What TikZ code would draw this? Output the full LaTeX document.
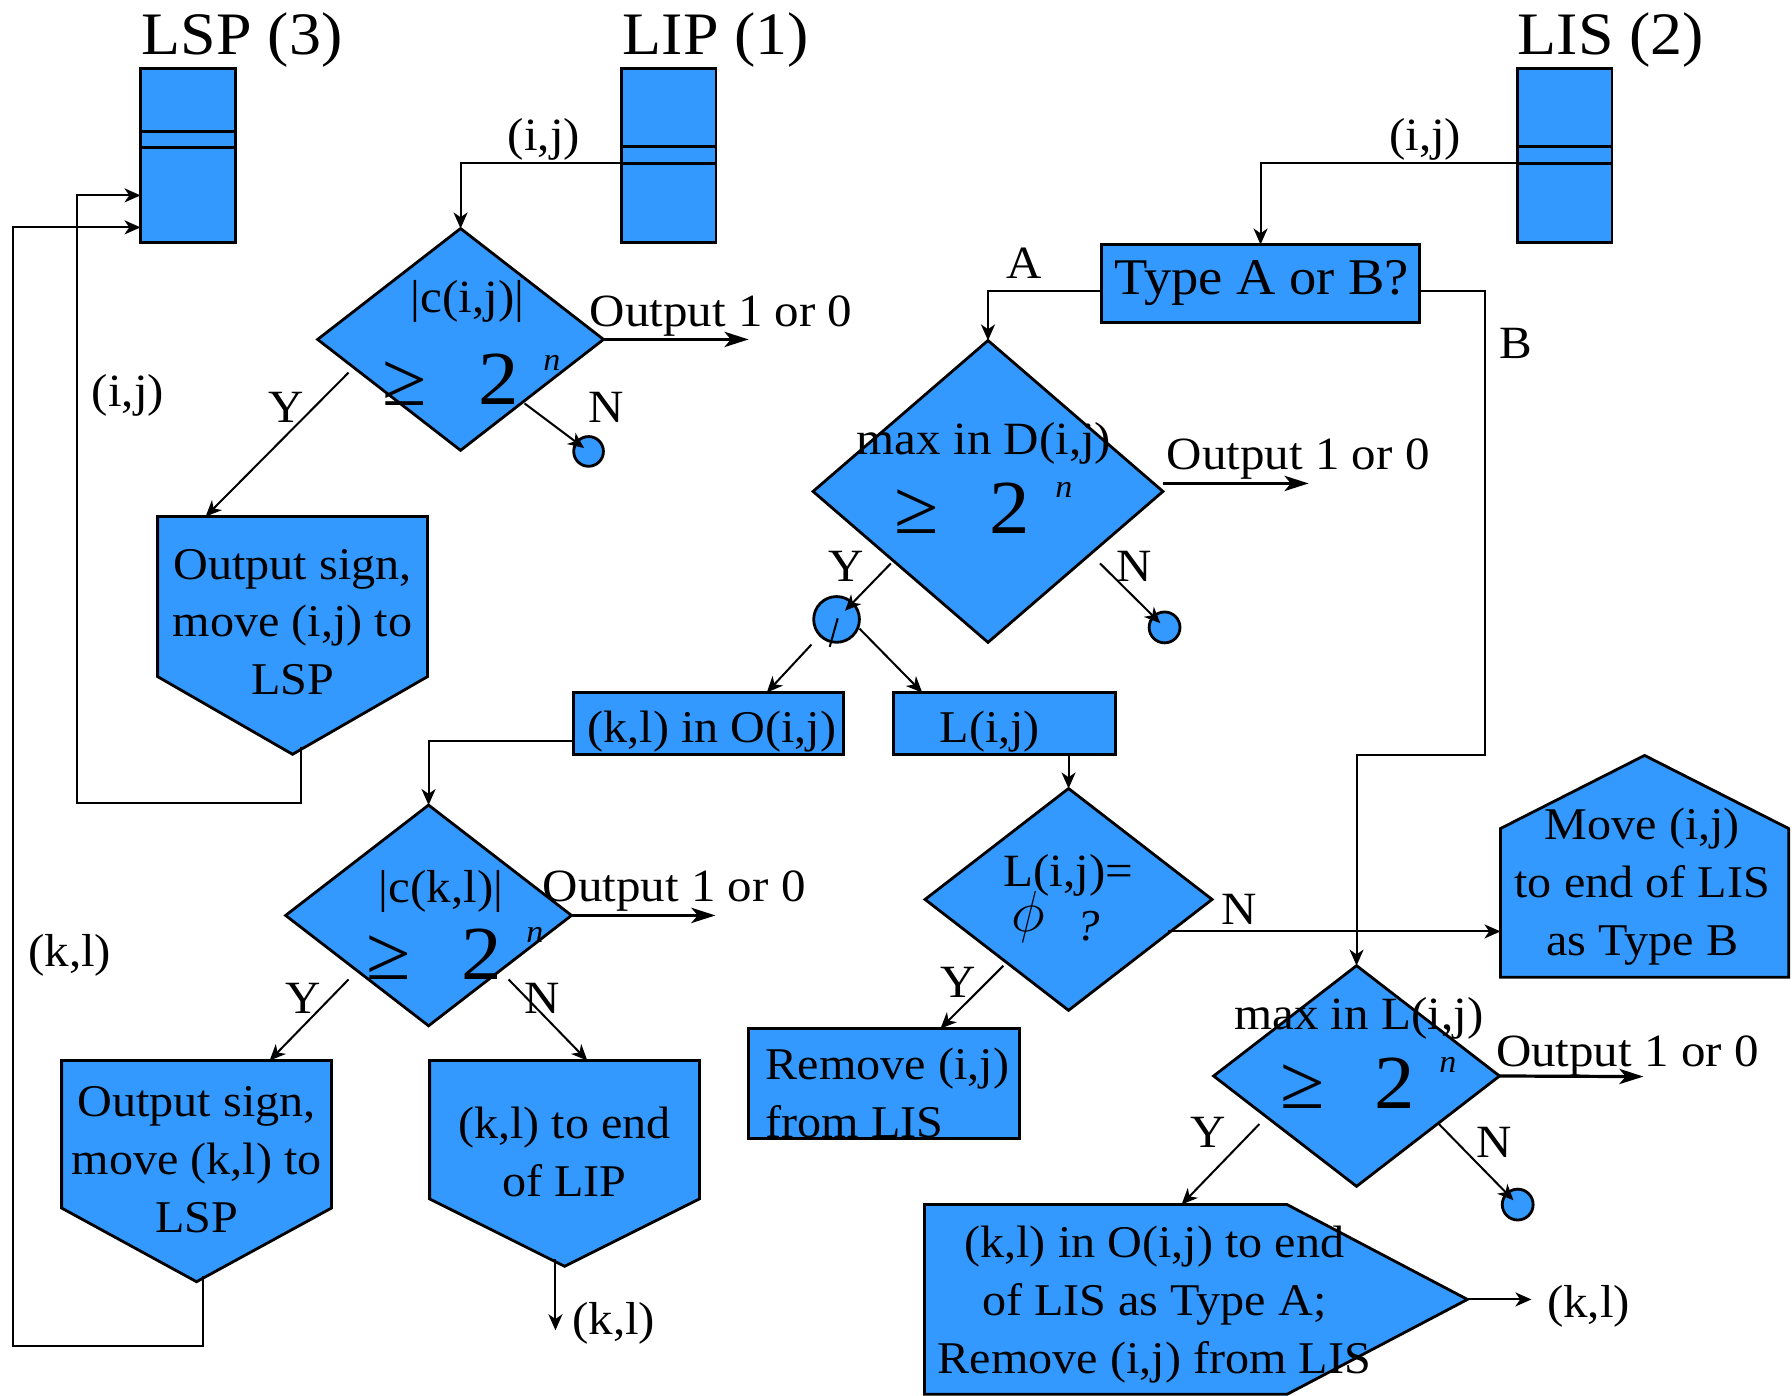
\documentclass[tikz,border=0pt]{standalone}
\usepackage{fontspec}
\setmainfont{Liberation Serif}[FakeStretch=1.06]
\usetikzlibrary{shapes.geometric,calc,arrows.meta}
\definecolor{blu}{RGB}{51,153,255}
\begin{document}
\begin{tikzpicture}[x=0.01cm,y=-0.01cm,
  shp/.style={draw=black, fill=blu, line width=0.7pt},
  lst/.style={shp, rectangle, inner sep=0, outer sep=0, minimum width=0.83cm, minimum height=1.52cm},
  box/.style={shp, rectangle, inner sep=0, outer sep=0},
  body/.style={rectangle, inner sep=0, outer sep=0},
  dia/.style={shp, diamond, inner sep=0, outer sep=0},
  dot/.style={shp, circle, inner sep=0, outer sep=0},
  conn/.style={line width=0.5pt, -{Stealth[length=4pt,width=3.5pt,inset=1.2pt]}},
  outa/.style={line width=0.8pt, -{Stealth[length=6pt,width=3.8pt,inset=1.6pt]}},
  ln/.style={line width=0.7pt},
  tx/.style={inner sep=0, outer sep=0, anchor=base},
  bx/.style={tx, align=center, font=\fontsize{11.3}{14.4}\selectfont},
  lab/.style={tx, font=\fontsize{11.5}{13}\selectfont},
  outl/.style={tx, anchor=base west, font=\fontsize{11.5}{13}\selectfont},
  ttl/.style={tx, anchor=base west, font=\fontsize{15}{18}\selectfont},
  big/.style={tx, anchor=base west, font=\fontsize{19}{22}\selectfont},
  supn/.style={tx, font=\fontsize{8}{9}\selectfont\itshape},
]
\useasboundingbox (0,0) rectangle (1568,1221);

% ---- list boxes
\node[lst] (lsp) at (164.5,136) {};
\draw[ln] ($(lsp.north west)+(0,55)$) -- ($(lsp.north east)+(0,55)$);
\draw[ln] ($(lsp.north west)+(0,69)$) -- ($(lsp.north east)+(0,69)$);
\node[lst] (lip) at (585,136) {};
\draw[ln] ($(lip.north west)+(0,68)$) -- ($(lip.north east)+(0,68)$);
\draw[ln] ($(lip.north west)+(0,83)$) -- ($(lip.north east)+(0,83)$);
\node[lst] (lis) at (1369,136) {};
\draw[ln] ($(lis.north west)+(0,68)$) -- ($(lis.north east)+(0,68)$);
\draw[ln] ($(lis.north west)+(0,83)$) -- ($(lis.north east)+(0,83)$);

% ---- boxes
\node[box, minimum width=2.78cm, minimum height=0.68cm] (tb) at (1103,248) {};
\node[box, minimum width=2.36cm, minimum height=0.54cm] (ob) at (620,633) {};
\node[box, minimum width=1.94cm, minimum height=0.54cm] (lb) at (879,633) {};
\node[box, minimum width=2.37cm, minimum height=0.96cm] (rm) at (773.5,948) {};

% ---- diamonds
\node[dia, minimum width=2.5cm, minimum height=1.94cm] (d1) at (403,297) {};
\node[dia, minimum width=3.06cm, minimum height=2.64cm] (d2) at (864.5,430) {};
\node[dia, minimum width=2.5cm, minimum height=1.93cm] (d3) at (375,801) {};
\node[dia, minimum width=2.51cm, minimum height=1.94cm] (d4) at (935,787) {};
\node[dia, minimum width=2.5cm, minimum height=1.93cm] (d5) at (1187,941.5) {};

% ---- pentagons
\node[body, minimum width=2.36cm, minimum height=1.40cm] (p1) at (256,522) {};
\coordinate (p1tip) at (256,660);
\draw[shp] (p1.north west) -- (p1.north east) -- (p1.south east) -- (p1tip) -- (p1.south west) -- cycle;
\node[body, minimum width=2.36cm, minimum height=1.29cm] (p3) at (172,992.5) {};
\coordinate (p3tip) at (172,1121.5);
\draw[shp] (p3.north west) -- (p3.north east) -- (p3.south east) -- (p3tip) -- (p3.south west) -- cycle;
\node[body, minimum width=2.36cm, minimum height=1.21cm] (p4) at (494,988.5) {};
\coordinate (p4tip) at (494,1108);
\draw[shp] (p4.north west) -- (p4.north east) -- (p4.south east) -- (p4tip) -- (p4.south west) -- cycle;
\node[body, minimum width=2.52cm, minimum height=1.30cm] (pu) at (1439,790) {};
\coordinate (puapex) at (1439,661);
\draw[shp] (pu.south west) -- (pu.north west) -- (puapex) -- (pu.north east) -- (pu.south east) -- cycle;
\node[body, minimum width=3.17cm, minimum height=1.66cm] (pr) at (967.5,1137) {};
\coordinate (prtip) at (1284,1137);
\draw[shp] (pr.north west) -- (pr.north east) -- (prtip) -- (pr.south east) -- (pr.south west) -- cycle;

% ---- small circles
\node[dot, minimum size=0.26cm] (c1) at (515,395) {};
\node[dot, minimum size=0.40cm] (c2) at (732,542) {};
\node[dot, minimum size=0.27cm] (c4) at (1019,549) {};
\node[dot, minimum size=0.27cm] (c3) at (1328,1054) {};
\draw[line width=0.5pt] ($(c2.center)+(1,-1)$) -- ($(c2.center)+(-6,24)$);

% ---- connectors
\draw[conn] ($(lip.north west)+(0,83)$) -| (d1.north);
\draw[conn] ($(lis.north west)+(0,83)$) -| (tb.north);
\draw[conn] ($(tb.north west)+(0,41)$) -| (d2.north);
\coordinate (bc) at (1299,661);
\draw[conn] ($(tb.north east)+(0,41)$) -| (bc) -| (d5.north);
\draw[conn] ($(ob.north west)+(0,42)$) -| (d3.north);
\draw[conn] (lb.south -| d4.north) -- (d4.north);

\coordinate (o1) at (655,297);
\draw[outa] (d1.east) -- (o1);
\coordinate (o2) at (1145,423);
\draw[outa] (d2.east |- o2) -- (o2);
\coordinate (o3) at (626,801);
\draw[outa] (d3.east) -- (o3);
\coordinate (o5) at (1438,942);
\draw[outa] (d5.east) -- (o5);

\draw[conn] ($(d1.center)+(-98,29)$) -- ($(p1.north west)+(42,0)$);
\draw[conn, shorten >=1.4pt] ($(d1.center)+(56,56)$) -- (c1.center);
\draw[conn, shorten >=3pt] ($(d2.center)+(-85,63)$) -- (c2.center);
\draw[conn, shorten >=1.5pt] ($(d2.center)+(98,63)$) -- (c4.center);
\draw[conn] ($(c2.center)+(-22,22)$) -- ($(ob.north west)+(169,0)$);
\draw[conn] ($(c2.center)+(20,8)$) -- ($(lb.north west)+(25,0)$);
\draw[conn] ($(d3.center)+(-70,56)$) -- ($(p3.north west)+(182,0)$);
\draw[conn] ($(d3.center)+(70,56)$) -- ($(p4.north west)+(138,0)$);
\draw[conn] ($(d4.center)+(-57,58)$) -- ($(rm.north west)+(168,0)$);
\draw[conn] ($(d4.center)+(87,28)$) coordinate (n4s) -- (n4s -| pu.west);
\draw[conn] ($(d5.center)+(-85,42)$) -- ($(pr.north west)+(225,0)$);
\draw[conn, shorten >=1.5pt] ($(d5.center)+(72,42)$) -- (c3.center);

\coordinate (k1) at (486,1164);
\draw[conn] ($(p4tip)+(-8,-6)$) -- (k1);
\coordinate (k2) at (1340,1137);
\draw[conn] (prtip) -- (k2);

\coordinate (lpa) at (67,703);
\draw[conn] ($(p1tip)+(7,-6)$) |- (lpa) |- ($(lsp.north west)+(0,111)$);
\coordinate (lpb) at (11,1178);
\draw[conn] ($(p3tip)+(6,-5)$) |- (lpb) |- ($(lsp.north west)+(0,139)$);

% ---- titles and labels
\node[ttl] (t1) at (124,48) {LSP (3)};
\node[ttl] (t2) at (545,48) {LIP (1)};
\node[ttl] (t3) at (1328,48) {LIS (2)};

\node[lab] (l1) at (476,132) {(i,j)};
\node[lab] (l2) at (1247,132) {(i,j)};
\node[lab] (l3) at (112,356) {(i,j)};
\node[lab] (l4) at (61,846) {(k,l)};
\node[lab] (l5) at (537,1168) {(k,l)};
\node[lab] (l6) at (1390,1153) {(k,l)};
\node[lab] (la) at (896,244) {A};
\node[lab] (lbb) at (1326,314) {B};

\node[lab] (y1) at (250,370) {Y};
\node[lab] (n1) at (530,370) {N};
\node[lab] (y2) at (740,509) {Y};
\node[lab] (n2) at (992,509) {N};
\node[lab] (y3) at (265,887) {Y};
\node[lab] (n3) at (474,887) {N};
\node[lab] (n4) at (1084,809) {N};
\node[lab] (y4) at (838,873) {Y};
\node[lab] (y5) at (1057,1004) {Y};
\node[lab] (n5) at (1307,1013) {N};

\node[outl] (ol1) at (516,286) {Output 1 or 0};
\node[outl] (ol2) at (1021,411) {Output 1 or 0};
\node[outl] (ol3) at (475,789) {Output 1 or 0};
\node[outl] (ol5) at (1309,933) {Output 1 or 0};

% ---- diamond texts
\node[lab] (d1t) at (409,273) {|c(i,j)|};
\node[big] (d1g) at (335,355) {≥};
\node[big] (d1two) at (419,354) {2};
\node[supn] (d1n) at (483,324) {n};

\node[lab] (d2t) at (861,398) {max in D(i,j)};
\node[big] (d2g) at (783,467) {≥};
\node[big] (d2two) at (866,467) {2};
\node[supn] (d2n) at (931,435) {n};

\node[lab] (d3t) at (386,790) {|c(k,l)|};
\node[big] (d3g) at (321,857) {≥};
\node[big] (d3two) at (404,857) {2};
\node[supn] (d3n) at (468,825) {n};

\node[lab] (d5t) at (1189,901) {max in L(i,j)};
\node[big] (d5g) at (1120,970) {≥};
\node[big] (d5two) at (1203,970) {2};
\node[supn] (d5n) at (1267,938) {n};

\node[lab] (d4t) at (935,776) {L(i,j)=};
\node[tx, font=\fontsize{14.5}{16}\selectfont] (d4p) at (900,815) {$\phi$};
\node[tx, font=\fontsize{11}{13}\selectfont\itshape] (d4q) at (952,823) {?};

% ---- box texts (anchor base = last line's baseline)
\node[bx] (p1t) at (256,608) {Output sign,\\move (i,j) to\\LSP};
\node[bx] (obt) at (623,650) {(k,l) in O(i,j)};
\node[bx] (lbt) at (866,650) {L(i,j)};
\node[bx, font=\fontsize{12.8}{15}\selectfont] (tbt) at (1104,258) {Type A or B?};
\node[bx] (put) at (1437,836) {Move (i,j)\\to end of LIS\\as Type B};
\node[bx, align=left, anchor=base west] (rmt) at (670,995) {Remove (i,j)\\from LIS};
\node[bx] (p3t) at (172,1078) {Output sign,\\move (k,l) to\\LSP};
\node[bx] (p4t) at (494,1047) {(k,l) to end\\of LIP};
\node[bx] (prt) at (1010,1202) {(k,l) in O(i,j) to end\\of LIS as Type A;\\Remove (i,j) from LIS};
\end{tikzpicture}
\end{document}
